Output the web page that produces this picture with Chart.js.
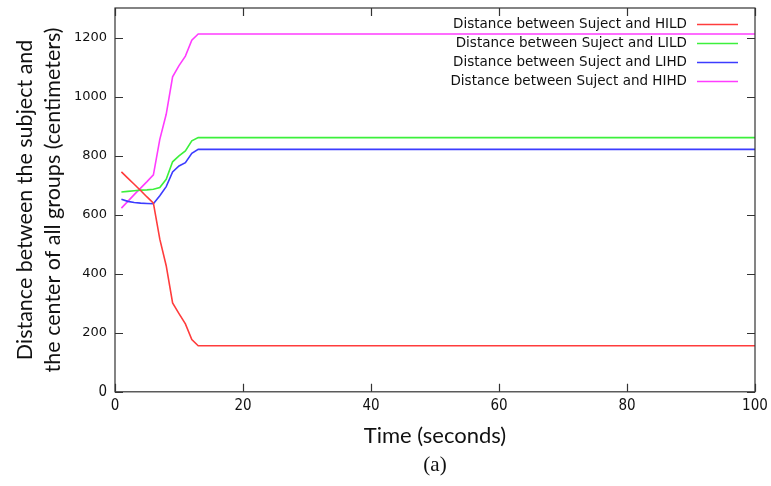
<!DOCTYPE html>
<html><head><meta charset="utf-8">
<script src="https://cdn.jsdelivr.net/npm/chart.js@4/dist/chart.umd.min.js"></script>
<style>html,body{margin:0;padding:0;background:#fff}#wrap{width:771px;height:486px;position:relative}</style>
</head><body><div id="wrap"><canvas id="c"></canvas></div>
<script>
const timeSeconds = [1, 2, 3, 4, 5, 6, 7, 8, 9, 10, 11, 12, 13, 100];
const hild = [745, 724, 703, 682, 660, 639, 517, 427, 301, 265, 230, 177, 156, 156];
const lild = [677, 679, 681, 683, 684, 686, 692, 720, 779, 799, 816, 850, 861, 861];
const lihd = [652, 645, 641, 639, 638, 637, 664, 695, 745, 765, 776, 808, 821, 821];
const hihd = [622, 645, 668, 690, 712, 735, 855, 940, 1067, 1105, 1137, 1191, 1212, 1212];
const seriesLabels = [
  'Distance between Suject and HILD',
  'Distance between Suject and LILD',
  'Distance between Suject and LIHD',
  'Distance between Suject and HIHD'
];
const xTicks = [0, 20, 40, 60, 80, 100];
const yTicks = [0, 200, 400, 600, 800, 1000, 1200];
const seriesColors = ['#ff3c3c', '#3cf03c', '#3c3cff', '#ff3cff'];

const allSeries = [hild, lild, lihd, hihd];
const datasets = allSeries.map((vals, i) => ({
  label: seriesLabels[i],
  data: vals.map((v, j) => ({x: timeSeconds[j], y: v})),
  borderColor: seriesColors[i],
  backgroundColor: seriesColors[i],
  borderWidth: 1.6,
  pointRadius: 0,
  tension: 0,
  fill: false
}));

const narrowFont = '"Liberation Sans Narrow", "DejaVu Sans Condensed", sans-serif';

const framePlugin = {
  id: 'frame',
  afterDatasetsDraw(chart) {
    const {ctx, chartArea: a, scales: {x, y}} = chart;
    ctx.save();
    ctx.strokeStyle = '#333';
    ctx.lineWidth = 1.2;
    ctx.strokeRect(a.left, a.top, a.right - a.left, a.bottom - a.top);
    const tl = 8;
    ctx.beginPath();
    x.ticks.forEach(t => {
      const px = Math.round(x.getPixelForValue(t.value)) + 0.5;
      ctx.moveTo(px, a.bottom); ctx.lineTo(px, a.bottom - tl);
      ctx.moveTo(px, a.top); ctx.lineTo(px, a.top + tl);
    });
    y.ticks.forEach(t => {
      const py = Math.round(y.getPixelForValue(t.value)) + 0.5;
      ctx.moveTo(a.left, py); ctx.lineTo(a.left + tl, py);
      ctx.moveTo(a.right, py); ctx.lineTo(a.right - tl, py);
    });
    ctx.stroke();
    // legend, gnuplot style: text right-aligned, sample line to the right
    ctx.font = '13.5px "DejaVu Sans", sans-serif';
    ctx.textAlign = 'right';
    ctx.textBaseline = 'middle';
    chart.data.datasets.forEach((ds, i) => {
      const yy = a.top + 16.5 + i * 19;
      ctx.fillStyle = '#111';
      ctx.fillText(ds.label, a.right - 68, yy);
      ctx.strokeStyle = ds.borderColor;
      ctx.lineWidth = 1.6;
      ctx.beginPath();
      ctx.moveTo(a.right - 58, yy); ctx.lineTo(a.right - 17, yy);
      ctx.stroke();
    });
    ctx.restore();
  }
};

new Chart(document.getElementById('c'), {
  type: 'line',
  data: {datasets},
  plugins: [framePlugin],
  options: {
    responsive: true,
    maintainAspectRatio: false,
    animation: false,
    layout: {padding: {left: 0, right: 16, top: 8, bottom: 0}},
    plugins: {
      legend: {display: false},
      tooltip: {enabled: false},
      title: {
        display: true,
        position: 'bottom',
        fullSize: false,
        text: '(a)',
        color: '#111',
        font: {family: '"Liberation Serif", serif', size: 21, weight: 'normal', lineHeight: 1.2},
        padding: {top: 0, bottom: 8}
      }
    },
    scales: {
      x: {
        type: 'linear',
        min: 0, max: 100,
        afterBuildTicks: s => { s.ticks = xTicks.map(v => ({value: v})); },
        afterFit: s => { s.height = 61; s.paddingLeft = 0; s.paddingRight = 0; },
        grid: {display: false, drawTicks: false},
        border: {display: false},
        ticks: {padding: 5, color: '#111', maxRotation: 0, callback: v => String(v),
          font: {family: narrowFont, size: 15}},
        title: {display: true, text: 'Time (seconds)', color: '#111',
          font: {family: 'Lato, sans-serif', size: 22, lineHeight: 1.2}, padding: {top: 0, bottom: 4}}
      },
      y: {
        type: 'linear',
        min: 0, max: 1300,
        afterBuildTicks: s => { s.ticks = yTicks.map(v => ({value: v})); },
        afterFit: s => { s.width = 115; s.paddingTop = 0; s.paddingBottom = 0; },
        grid: {display: false, drawTicks: false},
        border: {display: false},
        ticks: {padding: 8, color: '#111', callback: v => String(v),
          font: c => (c.tick && c.tick.value === 0)
            ? {family: narrowFont, size: 15}
            : {family: '"DejaVu Sans", sans-serif', size: 13}},
        title: {display: true, text: ['Distance between the subject and', 'the center of all groups (centimeters)'], color: '#111',
          font: {family: 'Lato, sans-serif', size: 21.5, lineHeight: 1.3}, padding: {top: 11, bottom: 0}}
      }
    }
  }
});
</script>
</body></html>
